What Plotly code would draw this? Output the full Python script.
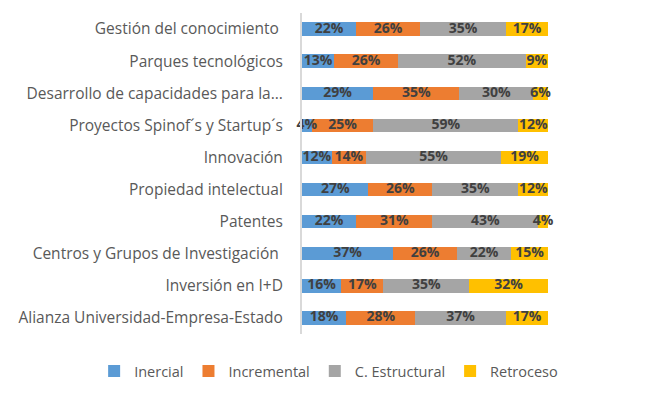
import plotly.graph_objects as go

categories = [
    "Gestión del conocimiento ",
    "Parques tecnológicos",
    "Desarrollo de capacidades para la...",
    "Proyectos Spinof´s y Startup´s",
    "Innovación",
    "Propiedad intelectual",
    "Patentes",
    "Centros y Grupos de Investigación ",
    "Inversión en I+D",
    "Alianza Universidad-Empresa-Estado",
]
inercial = [22, 13, 29, 4, 12, 27, 22, 37, 16, 18]
incremental = [26, 26, 35, 25, 14, 26, 31, 26, 17, 28]
estructural = [35, 52, 30, 59, 55, 35, 43, 22, 35, 37]
retroceso = [17, 9, 6, 12, 19, 12, 4, 15, 32, 17]

series = [
    ("Inercial", inercial, "#5B9BD5"),
    ("Incremental", incremental, "#ED7D31"),
    ("C. Estructural", estructural, "#A5A5A5"),
    ("Retroceso", retroceso, "#FFC000"),
]

fig = go.Figure()
for name, vals, color in series:
    fig.add_trace(go.Bar(
        name=name,
        y=categories,
        x=[v / 100 for v in vals],
        orientation="h",
        marker=dict(color=color, line=dict(width=0)),
        hoverinfo="x+y+name",
    ))

# data labels drawn on top of all bars, centred in each segment
base = [0.0] * len(categories)
for name, vals, color in series:
    mids = [b + v / 200 for b, v in zip(base, vals)]
    fig.add_trace(go.Scatter(
        x=mids,
        y=categories,
        mode="text",
        text=[f"<b>{v}%</b>" for v in vals],
        textposition="middle center",
        textfont=dict(family="Open Sans", size=14, color="#404040"),
        showlegend=False,
        hoverinfo="skip",
        cliponaxis=False,
    ))
    base = [b + v / 100 for b, v in zip(base, vals)]

fig.update_layout(
    barmode="stack",
    bargap=0.58,
    width=669,
    height=399,
    margin=dict(l=294, r=129, t=5, b=73, autoexpand=False),
    paper_bgcolor="white",
    plot_bgcolor="white",
    font=dict(family="Open Sans", size=15, color="#595959"),
    xaxis=dict(visible=False, range=[0, 1]),
    yaxis=dict(
        autorange="reversed",
        showline=True,
        linecolor="#D9D9D9",
        linewidth=2,
        showgrid=False,
        ticks="outside",
        ticklen=14,
        tickcolor="rgba(0,0,0,0)",
        tickfont=dict(family="Open Sans", size=15.5, color="#595959"),
    ),
    legend=dict(
        orientation="h",
        x=-0.845,
        xanchor="left",
        y=-0.066,
        yanchor="top",
        font=dict(family="Open Sans", size=14.5, color="#595959"),
        traceorder="normal",
    ),
    showlegend=True,
)

fig.write_html("out.html")
